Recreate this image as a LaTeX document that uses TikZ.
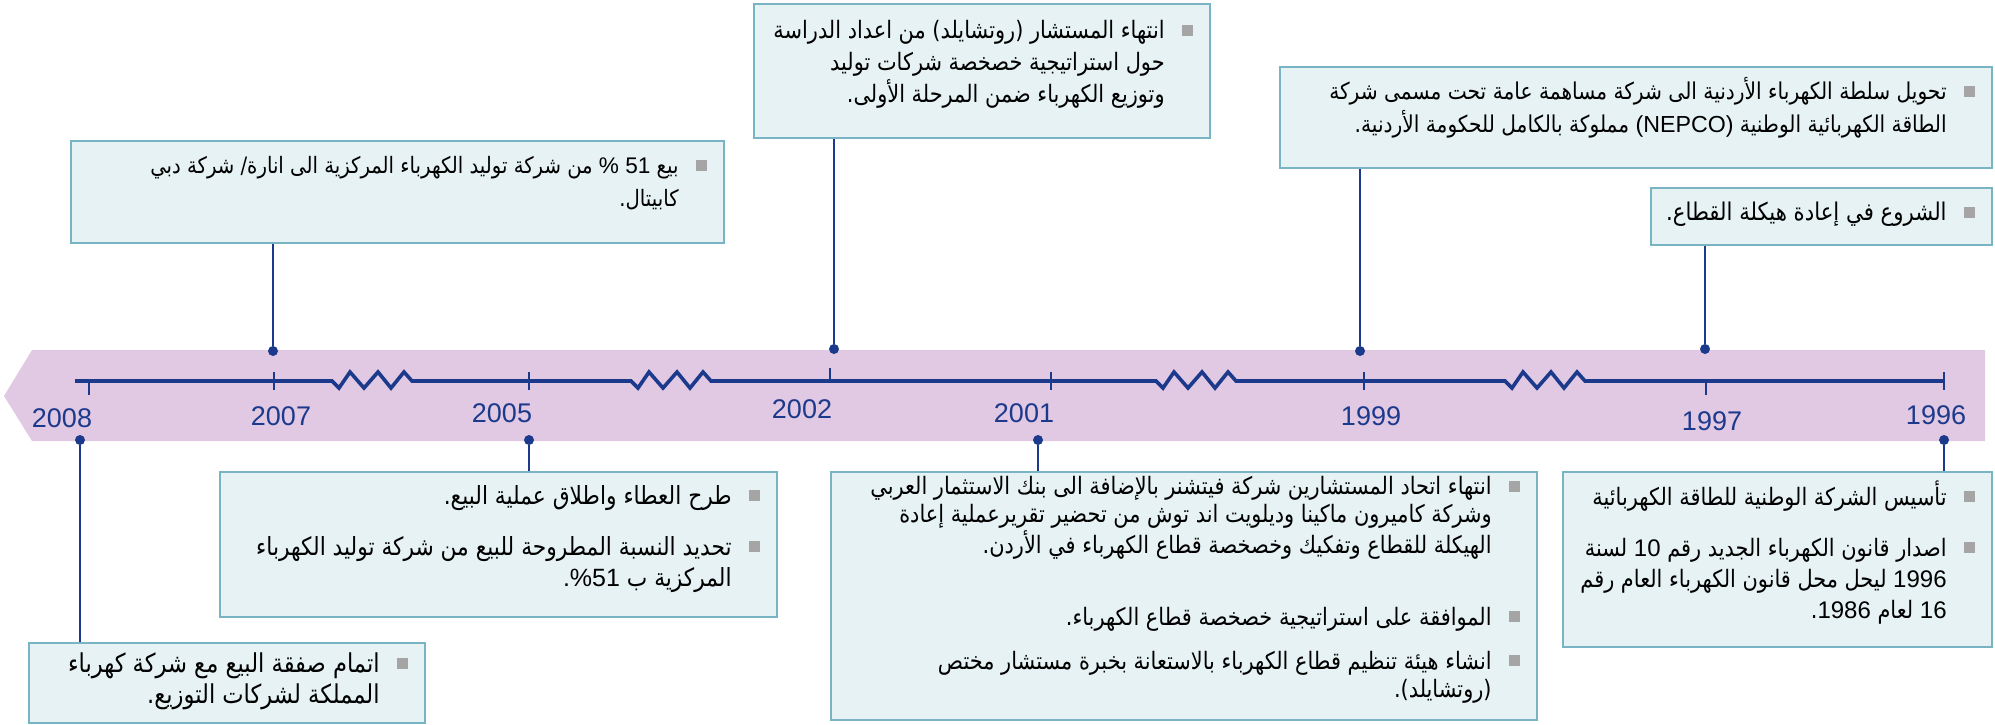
\documentclass[tikz,border=0pt]{standalone}
\usepackage{fontspec}
\setmainfont{Liberation Sans}
\newfontfamily\arabicfont[Script=Arabic,FakeStretch=0.87]{DejaVu Sans}
\newfontfamily\latinfont{Liberation Sans}
\TeXXeTstate=1

\definecolor{bandpink}{RGB}{225,200,227}
\definecolor{boxfill}{RGB}{230,242,243}
\definecolor{boxline}{RGB}{120,180,196}
\definecolor{axisblue}{RGB}{28,58,140}
\definecolor{bulgray}{RGB}{165,165,165}

\newcommand{\bul}{\makebox[14pt][r]{\textcolor{bulgray}{\rule[1.5pt]{5.5pt}{5.5pt}}}}
\newcommand{\nob}{\makebox[14pt]{}}
\newcommand{\num}[1]{\beginL{\latinfont #1}\endL}
\newcommand{\zigzag}{-- ++(7,7) -- ++(11,-16) -- ++(14,16) -- ++(14,-16) -- ++(13,16) -- ++(13,-16) -- ++(8,9)}

\tikzset{
  evtbox/.style={draw=boxline, fill=boxfill, line width=1pt, inner sep=0pt, anchor=north west},
  evttext/.style 2 args={anchor=north east, align=right, inner sep=0pt,
    font=\arabicfont\fontsize{#1}{#2}\selectfont},
  yearlbl/.style={text=axisblue, inner sep=0pt, font=\latinfont\fontsize{13.5}{16}\selectfont},
  pin/.style={circle, fill=axisblue, inner sep=0pt, minimum size=5pt},
  conn/.style={axisblue, line width=1.4pt},
}

\begin{document}
\begin{tikzpicture}[x=0.5pt,y=-0.5pt]
\useasboundingbox (0,0) rectangle (1995,724);

% band and axis
\fill[bandpink] (32,350) -- (1985,350) -- (1985,441) -- (32,441) -- (4,396) -- cycle;
\draw[axisblue, line width=1.8pt] (75,381) -- (332,381) \zigzag -- (631,381) \zigzag
  -- (1156,381) \zigzag -- (1505,381) \zigzag -- (1944,381);
\draw[axisblue, line width=1.3pt]
  (89,381) -- (89,395) (274,372) -- (274,390) (529,372) -- (529,390)
  (830,368) -- (830,383) (1051,372) -- (1051,390) (1364,372) -- (1364,390)
  (1706,381) -- (1706,395) (1944,372) -- (1944,390);

% years
\node[yearlbl] (y2008) at (62,418) {2008};
\node[yearlbl] (y2007) at (281,416) {2007};
\node[yearlbl] (y2005) at (502,413) {2005};
\node[yearlbl] (y2002) at (802,409) {2002};
\node[yearlbl] (y2001) at (1024,413) {2001};
\node[yearlbl] (y1999) at (1371,416) {1999};
\node[yearlbl] (y1997) at (1712,421) {1997};
\node[yearlbl] (y1996) at (1936,415) {1996};

% boxes above
\node[evtbox, minimum width=228pt, minimum height=67pt] (b2002) at (753,3) {};
\node[evttext={12}{16}] (t2002) at (1193,20)
{\beginR انتهاء المستشار (روتشايلد) من اعداد الدراسة\endR\bul\\
\beginR حول استراتيجية خصخصة شركات توليد\endR\nob\\
\beginR وتوزيع الكهرباء ضمن المرحلة الأولى.\endR\nob};

\node[evtbox, minimum width=356pt, minimum height=50.5pt] (b1999) at (1279,66) {};
\node[evttext={11.6}{16.5}] (t1999) at (1975,77)
{\beginR تحويل سلطة الكهرباء الأردنية الى شركة مساهمة عامة تحت مسمى شركة\endR\bul\\
\beginR الطاقة الكهربائية الوطنية \beginL{\latinfont(NEPCO)}\endL{} مملوكة بالكامل للحكومة الأردنية.\endR\nob};

\node[evtbox, minimum width=170.5pt, minimum height=28.5pt] (b1997) at (1650,187) {};
\node[evttext={12.2}{16}] (t1997) at (1975,202)
{\beginR الشروع في إعادة هيكلة القطاع.\endR\bul};

\node[evtbox, minimum width=326.5pt, minimum height=51pt] (b2007) at (70,140) {};
\node[evttext={11.3}{16.5}] (t2007) at (707,156)
{\beginR بيع \num{51} {\latinfont\%} من شركة توليد الكهرباء المركزية الى انارة/ شركة دبي\endR\bul\\
\beginR كابيتال.\endR\nob};

% boxes below
\node[evtbox, minimum width=278.5pt, minimum height=72.5pt] (b2005) at (219,471) {};
\node[evttext={12.5}{15.5}] (t2005) at (760,485)
{\beginR طرح العطاء واطلاق عملية البيع.\endR\bul\\[10pt]
\beginR تحديد النسبة المطروحة للبيع من شركة توليد الكهرباء\endR\bul\\
\beginR المركزية ب \num{51}{\latinfont\%\kern0pt.}\endR\nob};

\node[evtbox, minimum width=353pt, minimum height=124pt] (b2001) at (830,471) {};
\node[evttext={12}{14}] (t2001) at (1520,476)
{\beginR انتهاء اتحاد المستشارين شركة فيتشنر بالإضافة الى بنك الاستثمار العربي\endR\bul\\
\beginR وشركة كاميرون ماكينا وديلويت اند توش من تحضير تقريرعملية إعادة\endR\nob\\
\beginR الهيكلة للقطاع وتفكيك وخصخصة قطاع الكهرباء في الأردن.\endR\nob\\[22pt]
\beginR الموافقة على استراتيجية خصخصة قطاع الكهرباء.\endR\bul\\[8pt]
\beginR انشاء هيئة تنظيم قطاع الكهرباء بالاستعانة بخبرة مستشار مختص\endR\bul\\
\beginR (روتشايلد).\endR\nob};

\node[evtbox, minimum width=214.5pt, minimum height=87.5pt] (b1996) at (1562,471) {};
\node[evttext={12}{15.5}] (t1996) at (1975,480)
{\beginR تأسيس الشركة الوطنية للطاقة الكهربائية\endR\bul\\[10pt]
\beginR اصدار قانون الكهرباء الجديد رقم \num{10} لسنة\endR\bul\\
\beginR \num{1996} ليحل محل قانون الكهرباء العام رقم\endR\nob\\
\beginR \num{16} لعام \num{1986}.\endR\nob};

\node[evtbox, minimum width=198pt, minimum height=40pt] (b2008) at (28,642) {};
\node[evttext={13}{15.5}] (t2008) at (408,652)
{\beginR اتمام صفقة البيع مع شركة كهرباء\endR\bul\\
\beginR المملكة لشركات التوزيع.\endR\nob};

% pins and connectors
\node[pin] (d2007) at (273,351) {};
\node[pin] (d2002) at (834,349) {};
\node[pin] (d1999) at (1360,351) {};
\node[pin] (d1997) at (1705,349) {};
\node[pin] (d2008) at (80,440) {};
\node[pin] (d2005) at (529,440) {};
\node[pin] (d2001) at (1038,440) {};
\node[pin] (d1996) at (1944,440) {};
\draw[conn] (b2007.south -| d2007) -- (d2007);
\draw[conn] (b2002.south -| d2002) -- (d2002);
\draw[conn] (b1999.south -| d1999) -- (d1999);
\draw[conn] (b1997.south -| d1997) -- (d1997);
\draw[conn] (b2008.north -| d2008) -- (d2008);
\draw[conn] (b2005.north -| d2005) -- (d2005);
\draw[conn] (b2001.north -| d2001) -- (d2001);
\draw[conn] (b1996.north -| d1996) -- (d1996);
\end{tikzpicture}
\end{document}
